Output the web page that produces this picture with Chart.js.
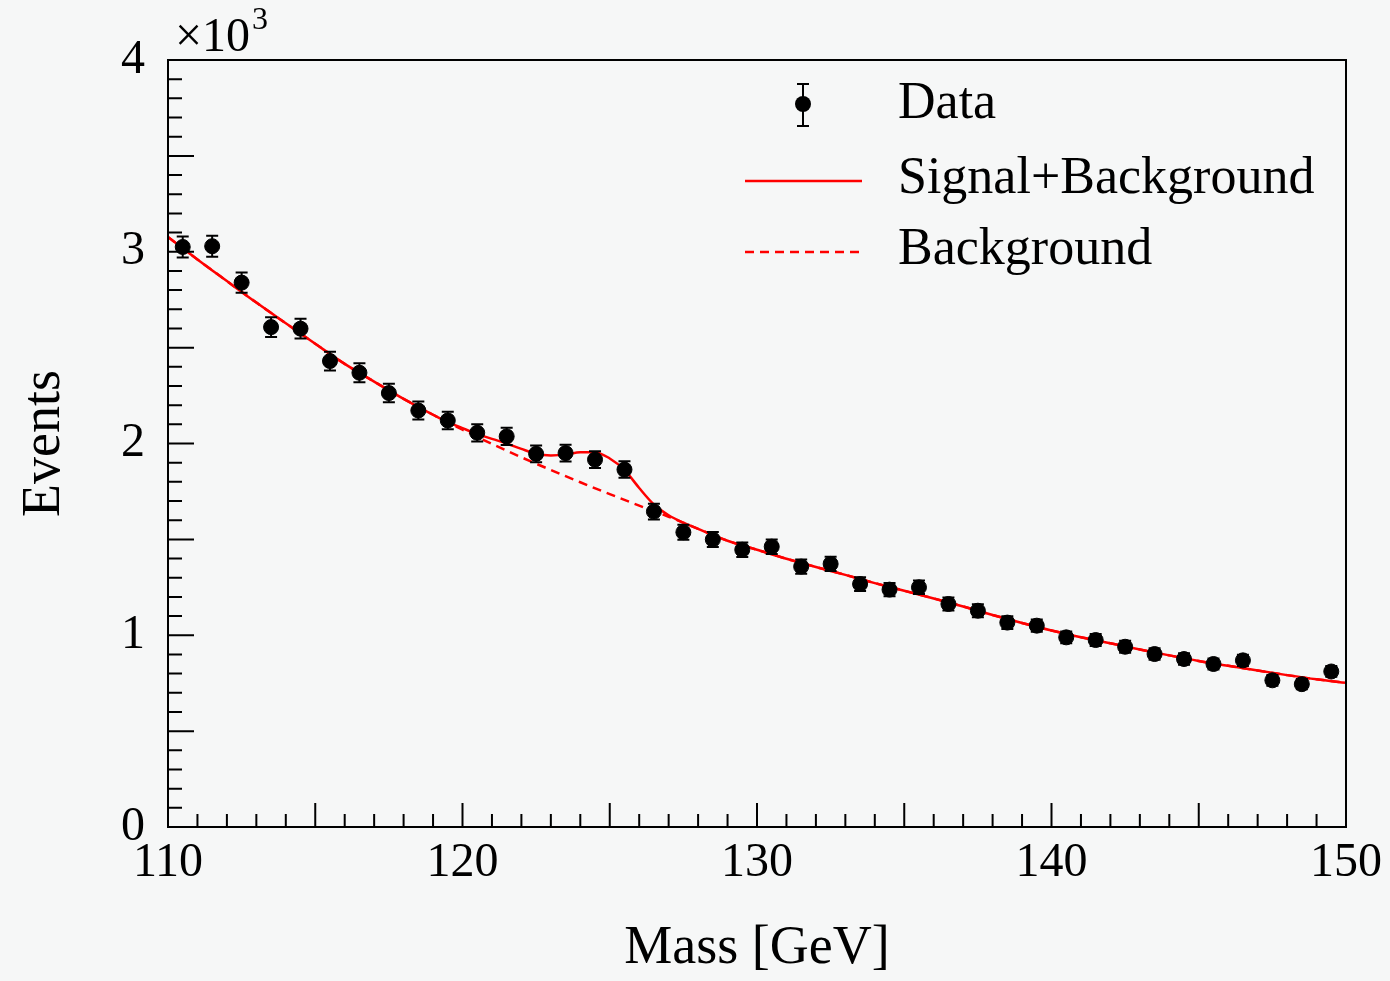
<!DOCTYPE html>
<html>
<head>
<meta charset="utf-8">
<script src="https://cdn.jsdelivr.net/npm/chart.js@4/dist/chart.umd.min.js"></script>
<style>
html,body{margin:0;padding:0;background:#f6f7f7}
canvas{display:block}
</style>
</head>
<body>
<canvas id="massChart" width="1390" height="981"></canvas>
<script>
// binned data, events per 1 GeV bin
const massBins=[110.5,111.5,112.5,113.5,114.5,115.5,116.5,117.5,118.5,119.5,
120.5,121.5,122.5,123.5,124.5,125.5,126.5,127.5,128.5,129.5,
130.5,131.5,132.5,133.5,134.5,135.5,136.5,137.5,138.5,139.5,
140.5,141.5,142.5,143.5,144.5,145.5,146.5,147.5,148.5,149.5]
const dataEvents=[3025,3029,2839,2607,2599,2430,2369,2263,2172,2120,
2056,2037,1946,1950,1916,1864,1645,1537,1499,1446,
1462,1358,1372,1267,1238,1250,1163,1128,1066,1050,
989,975,940,902,876,850,869,765,745,811]
const dataErrors=[55,55,53,51,51,49,49,48,47,46,
45,45,44,44,44,43,41,39,39,38,
38,37,37,36,35,35,34,34,33,32,
31,31,31,30,30,29,29,28,27,28]

// fitted curves
const sigBkgMass=[110,111,112,113,114,115,116,117,118,119,119.5,120,120.5,121,121.5,122,122.5,123,123.5,124,124.5,
125,125.5,126,126.5,127,127.5,128,128.5,129,130,131,132,133,134,135,136,137,138,139,140,
141,142,143,144,145,146,147,148,149,150]
const sigBkgEvents=[3077,2960,2847,2735,2627,2520,2415,2323,2233,2150,2111,2080,2050,2024,2000,1972,1947,1938,1942,1954,1955,
1922,1862,1768,1682,1626,1587,1555,1522,1493,1446,1399,1356,1315,1272,1232,1192,1150,1106,1064,1025,
990,958,926,895,866,841,816,792,770,752]
const bkgMass=[110,111,112,113,114,115,116,117,118,119,120,121,122,123,124,125,126,127,128,129,130,
131,132,133,134,135,136,137,138,139,140,141,142,143,144,145,146,147,148,149,150]
const bkgEvents=[3077,2960,2847,2735,2627,2520,2415,2323,2233,2150,2072,1998,1928,1862,1798,1736,1676,1618,1555,1493,1446,
1399,1356,1315,1272,1232,1192,1150,1106,1064,1025,990,958,926,895,866,841,816,792,770,752]

const xTickLabels=[110,120,130,140,150]
const yTickLabels=[0,1,2,3,4]

const FONT="'Liberation Serif', 'Times New Roman', serif"

function toPoints(xs,ys){
return xs.map((x,i)=>({x:x,y:ys[i]}))
}

const decorations={
id:'decorations',
afterDatasetsDraw(chart){
const ctx=chart.ctx, sx=chart.scales.x, sy=chart.scales.y
ctx.save()
ctx.strokeStyle='#000'
ctx.lineWidth=2
massBins.forEach((m,i)=>{
let px=sx.getPixelForValue(m)
let top=sy.getPixelForValue(dataEvents[i]+dataErrors[i])
let bot=sy.getPixelForValue(dataEvents[i]-dataErrors[i])
ctx.beginPath()
ctx.moveTo(px,top);ctx.lineTo(px,bot)
ctx.moveTo(px-6,top);ctx.lineTo(px+6,top)
ctx.moveTo(px-6,bot);ctx.lineTo(px+6,bot)
ctx.stroke()
})
ctx.restore()
},
afterDraw(chart){
const ctx=chart.ctx, a=chart.chartArea, sx=chart.scales.x, sy=chart.scales.y
ctx.save()
ctx.strokeStyle='#000'
ctx.lineWidth=2
ctx.strokeRect(a.left,a.top,a.right-a.left,a.bottom-a.top)

// ticks inside the frame
ctx.beginPath()
for(let v=111;v<150;v++){
let px=sx.getPixelForValue(v)
let len=v%5==0?24:13
ctx.moveTo(px,a.bottom);ctx.lineTo(px,a.bottom-len)
}
for(let k=1;k<40;k++){
let py=sy.getPixelForValue(k*100)
let len=k%5==0?26:14
ctx.moveTo(a.left,py);ctx.lineTo(a.left+len,py)
}
ctx.stroke()

// exponent
ctx.fillStyle='#000'
ctx.textBaseline='alphabetic'
ctx.textAlign='left'
ctx.font='48px '+FONT
ctx.fillText('\u00d710',175,51)
let w=ctx.measureText('\u00d710').width
ctx.font='32px '+FONT
ctx.fillText('3',175+w+2,29)

// legend
ctx.beginPath()
ctx.moveTo(803,84);ctx.lineTo(803,126)
ctx.moveTo(797,84);ctx.lineTo(809,84)
ctx.moveTo(797,126);ctx.lineTo(809,126)
ctx.stroke()
ctx.beginPath()
ctx.arc(803,104,8,0,Math.PI*2)
ctx.fill()

ctx.strokeStyle='#ff0000'
ctx.lineWidth=2.5
ctx.beginPath()
ctx.moveTo(745,181);ctx.lineTo(862,181)
ctx.stroke()
ctx.setLineDash([9,6])
ctx.beginPath()
ctx.moveTo(745,252);ctx.lineTo(862,252)
ctx.stroke()
ctx.setLineDash([])

ctx.font='52px '+FONT
ctx.textBaseline='middle'
ctx.fillText('Data',898,104)
ctx.fillText('Signal+Background',898,179)
ctx.fillText('Background',898,250)
ctx.restore()
}
}

new Chart(document.getElementById('massChart'),{
type:'scatter',
data:{
datasets:[
{
label:'Data',
data:toPoints(massBins,dataEvents),
backgroundColor:'#000',
borderColor:'#000',
pointRadius:7.5,
pointHoverRadius:7.5,
order:0
},
{
label:'Signal+Background',
type:'line',
data:toPoints(sigBkgMass,sigBkgEvents),
borderColor:'#ff0000',
borderWidth:2.5,
pointRadius:0,
fill:false,
cubicInterpolationMode:'monotone',
order:1
},
{
label:'Background',
type:'line',
data:toPoints(bkgMass,bkgEvents),
borderColor:'#ff0000',
borderWidth:2.5,
borderDash:[9,6],
pointRadius:0,
fill:false,
cubicInterpolationMode:'monotone',
order:2
}
]
},
options:{
responsive:false,
animation:false,
events:[],
layout:{padding:{top:60,right:41,left:0,bottom:0}},
plugins:{legend:{display:false},tooltip:{enabled:false}},
scales:{
x:{
type:'linear',
min:110,
max:150,
grid:{display:false,drawTicks:false},
border:{display:false},
afterBuildTicks(s){s.ticks=xTickLabels.map(v=>({value:v}))},
afterFit(s){s.height=154},
ticks:{
color:'#000',
font:{family:FONT,size:48},
padding:8,
maxRotation:0,
autoSkip:false,
callback:v=>String(v)
},
title:{
display:true,
text:'Mass [GeV]',
color:'#000',
font:{family:FONT,size:54},
padding:{top:0,bottom:0}
}
},
y:{
type:'linear',
min:0,
max:4000,
grid:{display:false,drawTicks:false},
border:{display:false},
afterBuildTicks(s){s.ticks=yTickLabels.map(v=>({value:v*1000}))},
afterFit(s){s.width=168},
ticks:{
color:'#000',
font:{family:FONT,size:48},
padding:23,
autoSkip:false,
callback:v=>String(v/1000)
},
title:{
display:true,
text:'Events',
color:'#000',
font:{family:FONT,size:54},
padding:{top:12,bottom:0}
}
}
}
},
plugins:[decorations]
})
</script>
</body>
</html>
